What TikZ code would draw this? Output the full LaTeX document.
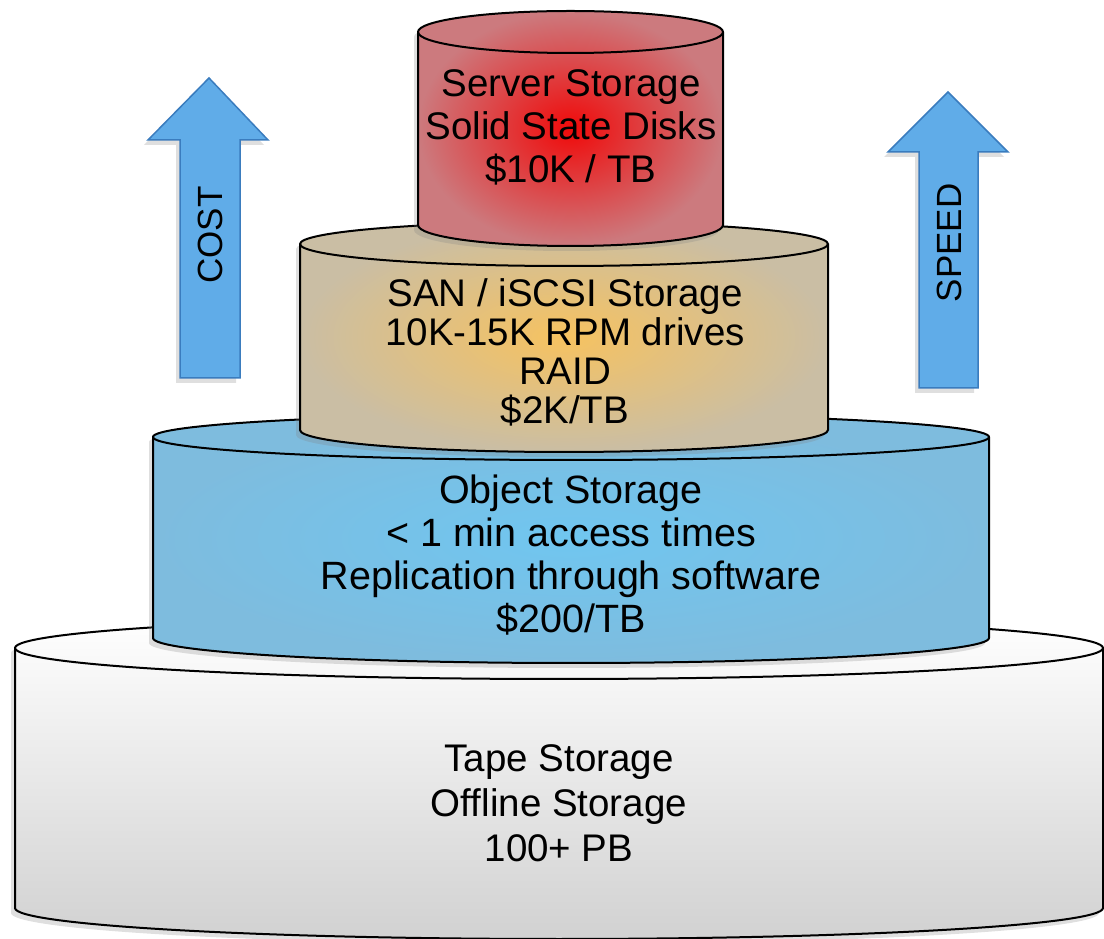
\documentclass[tikz,border=0pt]{standalone}
\usepackage{fontspec}
\setmainfont{Liberation Sans}
\usepackage{tikz}
\usetikzlibrary{shadows}

\definecolor{ssdred}{RGB}{240,10,10}
\definecolor{ssdedge}{RGB}{204,122,126}
\definecolor{sangold}{RGB}{246,194,96}
\definecolor{sanedge}{RGB}{202,190,164}
\definecolor{objblue}{RGB}{112,198,240}
\definecolor{objedge}{RGB}{126,188,222}
\definecolor{arrowfill}{RGB}{96,172,232}
\definecolor{arrowline}{RGB}{58,124,190}

\begin{document}
\begin{tikzpicture}[x=1pt, y=1pt,
    tier/.style={draw=black, line width=2pt},
    rim/.style={draw=black, line width=2pt},
    shade/.style={drop shadow={shadow xshift=-4pt, shadow yshift=-5pt, opacity=.25}},
    lbl/.style={align=center, font=\fontsize{38.5}{43}\selectfont},
    arrowbox/.style={fill=arrowfill, draw=arrowline, line width=1.5pt},
    arrowlbl/.style={font=\fontsize{35}{40}\selectfont}]
    \useasboundingbox (0,0) rectangle (1104,938);

    % tape storage
    \draw[tier, shade, top color=white, bottom color=black!18]
            (15,290) -- (15,30) arc[start angle=180, end angle=360, x radius=544pt, y radius=31pt]
            -- (1103,290) arc[start angle=0, end angle=180, x radius=544pt, y radius=31pt] -- cycle;
    \draw[rim] (15,290) arc[start angle=180, end angle=360, x radius=544pt, y radius=31pt];
    \node[lbl, font=\fontsize{38.5}{45}\selectfont] (tape) at (559,135) {Tape Storage\\Offline Storage\\100+ PB};

    % object storage
    \draw[tier, shade, inner color=objblue, outer color=objedge]
            (153,501) -- (153,300) arc[start angle=180, end angle=360, x radius=418pt, y radius=25pt]
            -- (989,501) arc[start angle=0, end angle=180, x radius=418pt, y radius=23pt] -- cycle;
    \draw[rim] (153,501) arc[start angle=180, end angle=360, x radius=418pt, y radius=23pt];
    \node[lbl, font=\fontsize{39.5}{43}\selectfont] (object) at (571,383) {Object Storage\\< 1 min access times\\Replication through software\\\$200/TB};

    % san / iscsi
    \draw[tier, shade, inner color=sangold, outer color=sanedge]
            (300,694) -- (300,508) arc[start angle=180, end angle=360, x radius=264pt, y radius=22pt]
            -- (828,694) arc[start angle=0, end angle=180, x radius=264pt, y radius=22pt] -- cycle;
    \draw[rim] (300,694) arc[start angle=180, end angle=360, x radius=264pt, y radius=22pt];
    \node[lbl, font=\fontsize{38.5}{39}\selectfont] (san) at (565,586) {SAN / iSCSI Storage\\10K-15K RPM drives\\RAID\\\$2K/TB};

    % server storage
    \draw[tier, shade, inner color=ssdred, outer color=ssdedge]
            (418,906) -- (418,713) arc[start angle=180, end angle=360, x radius=152.5pt, y radius=21pt]
            -- (723,906) arc[start angle=0, end angle=180, x radius=152.5pt, y radius=21pt] -- cycle;
    \draw[rim] (418,906) arc[start angle=180, end angle=360, x radius=152.5pt, y radius=21pt];
    \node[lbl] (server) at (571,811) {Server Storage\\Solid State Disks\\\$10K / TB};

    % arrows
    \draw[arrowbox, shade] (180,560) -- (180,798) -- (148,798) -- (209,860)
            -- (268,798) -- (240,798) -- (240,560) -- cycle;
    \node[arrowlbl, rotate=90] (cost) at (210,703) {COST};
    \draw[arrowbox, shade] (919,550) -- (919,786) -- (888,786) -- (948,846)
            -- (1008,786) -- (978,786) -- (978,550) -- cycle;
    \node[arrowlbl, rotate=90] (speed) at (949,695) {SPEED};
\end{tikzpicture}
\end{document}
